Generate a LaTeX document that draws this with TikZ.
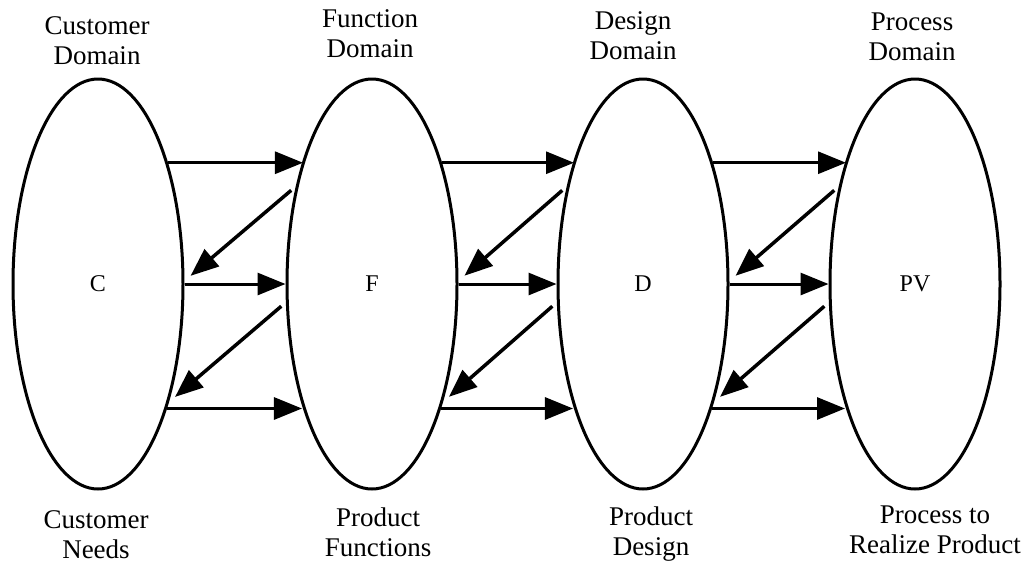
\documentclass[tikz,border=0pt]{standalone}
\usepackage{fontspec}
\setmainfont{Liberation Serif}
\usetikzlibrary{shapes.geometric,arrows.meta}

\begin{document}
\begin{tikzpicture}
		[	x=1pt,y=-1pt,
		domainbox/.style={ellipse,draw=black,line width=3pt,minimum width=170pt,minimum height=410pt,inner sep=0pt,font=\fontsize{24}{28}\selectfont},
		domtext/.style={align=center,anchor=base,inner sep=0pt,font=\fontsize{27}{29.5}\selectfont},
		flow/.style={-{Triangle[length=28pt,width=22pt]},line width=3pt},
		feedback/.style={flow,line width=3.5pt,shorten <=6pt,shorten >=8pt}
		]
		\useasboundingbox (0,0) rectangle (1024,563);
		\node[domainbox] (C) at (98,284){C};
		\node[domainbox] (F) at (372,284){F};
		\node[domainbox] (D) at (643,284){D};
		\node[domainbox] (PV) at (915,284){PV};
\node[domtext] (cdom) at (97,64){Customer\\Domain};
\node[domtext] (fdom) at (370,57){Function\\Domain};
\node[domtext] (ddom) at (633,59){Design\\Domain};
\node[domtext] (pdom) at (912,60){Process\\Domain};
\node[domtext] (cneed) at (96,558){Customer\\Needs};
\node[domtext] (fprod) at (378,556){Product\\Functions};
\node[domtext] (dprod) at (651,555){Product\\Design};
\node[domtext] (preal) at (935,553){Process to\\Realize Product};
		\foreach \l/\r in {C/F,F/D,D/PV}{
		\draw[flow] (\l.60.5) -- (\r.119.5 |- \l.60.5);
		\draw[feedback] (\r.128) -- (\l.2);
		\draw[flow] (\l.east) -- (\r.west);
		\draw[feedback] (\r.192) -- (\l.301);
		\draw[flow] (\l.299.5) -- (\r.240.5 |- \l.299.5);
		}
\end{tikzpicture}
\end{document}
